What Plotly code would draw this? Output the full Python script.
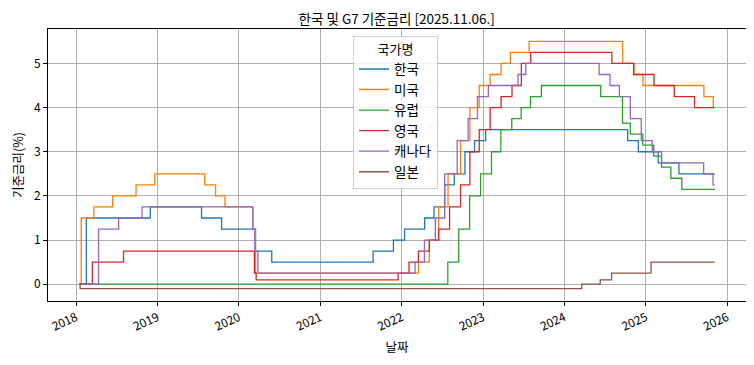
import plotly.graph_objects as go

# ---- data (policy rate change points, step-held until next point) ----
kr_dates = ["2018-01-16", "2018-02-16", "2018-11-30", "2019-07-18", "2019-10-16", "2020-03-16",
            "2020-05-28", "2021-08-26", "2021-11-25", "2022-01-14", "2022-04-14", "2022-05-26",
            "2022-07-13", "2022-08-25", "2022-10-12", "2022-11-24", "2023-01-13", "2024-10-11",
            "2024-11-28", "2025-02-25", "2025-05-29", "2025-11-06"]
kr_rates = [0, 1.5, 1.75, 1.5, 1.25, 0.75, 0.5, 0.75, 1.0, 1.25, 1.5, 1.75,
            2.25, 2.5, 3.0, 3.25, 3.5, 3.25, 3.0, 2.75, 2.5, 2.5]

us_dates = ["2018-01-16", "2018-01-24", "2018-03-22", "2018-06-14", "2018-09-27", "2018-12-20",
            "2019-08-01", "2019-09-19", "2019-10-31", "2020-03-04", "2020-03-16", "2022-03-17",
            "2022-05-05", "2022-06-16", "2022-07-28", "2022-09-22", "2022-11-03", "2022-12-15",
            "2023-02-02", "2023-03-23", "2023-05-04", "2023-07-27", "2024-09-19", "2024-11-08",
            "2024-12-19", "2025-09-18", "2025-10-30", "2025-11-06"]
us_rates = [0, 1.5, 1.75, 2.0, 2.25, 2.5, 2.25, 2.0, 1.75, 1.25, 0.25, 0.5,
            1.0, 1.75, 2.5, 3.25, 4.0, 4.5, 4.75, 5.0, 5.25, 5.5, 5.0, 4.75,
            4.5, 4.25, 4.0, 4.0]

eu_dates = ["2018-01-16", "2022-07-27", "2022-09-14", "2022-11-02", "2022-12-21", "2023-02-08",
            "2023-03-22", "2023-05-10", "2023-06-21", "2023-08-02", "2023-09-20", "2024-06-12",
            "2024-09-18", "2024-10-23", "2024-12-18", "2025-02-05", "2025-03-12", "2025-04-23",
            "2025-06-11", "2025-11-06"]
eu_rates = [0.0, 0.5, 1.25, 2.0, 2.5, 3.0, 3.5, 3.75, 4.0, 4.25, 4.5, 4.25,
            3.65, 3.4, 3.15, 2.9, 2.65, 2.4, 2.15, 2.15]

uk_dates = ["2018-01-16", "2018-03-15", "2018-08-02", "2020-03-11", "2020-03-19", "2021-12-16",
            "2022-02-03", "2022-03-17", "2022-05-05", "2022-06-16", "2022-08-04", "2022-09-22",
            "2022-11-03", "2022-12-15", "2023-02-02", "2023-03-23", "2023-05-11", "2023-06-22",
            "2023-08-03", "2024-08-01", "2024-11-07", "2025-02-06", "2025-05-08", "2025-08-07",
            "2025-11-06"]
uk_rates = [0, 0.5, 0.75, 0.25, 0.1, 0.25, 0.5, 0.75, 1.0, 1.25, 1.75, 2.25,
            3.0, 3.5, 4.0, 4.25, 4.5, 5.0, 5.25, 5.0, 4.75, 4.5, 4.25, 4.0, 4.0]

ca_dates = ["2018-01-16", "2018-04-12", "2018-07-11", "2018-10-24", "2020-03-04", "2020-03-13",
            "2020-03-27", "2022-03-02", "2022-04-13", "2022-06-01", "2022-07-13", "2022-09-07",
            "2022-10-26", "2022-12-07", "2023-01-25", "2023-06-07", "2023-07-12", "2024-06-05",
            "2024-07-24", "2024-09-04", "2024-10-23", "2024-12-11", "2025-01-29", "2025-03-12",
            "2025-09-17", "2025-10-29", "2025-11-06"]
ca_rates = [0, 1.25, 1.5, 1.75, 1.25, 0.75, 0.25, 0.5, 1.0, 1.5, 2.5, 3.25,
            3.75, 4.25, 4.5, 4.75, 5.0, 4.75, 4.5, 4.25, 3.75, 3.25, 3.0, 2.75,
            2.5, 2.25, 2.25]

jp_dates = ["2018-01-16", "2018-01-19", "2024-03-19", "2024-06-10", "2024-07-31", "2025-01-24",
            "2025-11-06"]
jp_rates = [0, -0.1, 0.0, 0.1, 0.25, 0.5, 0.5]

series_names = ["한국", "미국", "유럽", "영국", "캐나다", "일본"]
series_dates = [kr_dates, us_dates, eu_dates, uk_dates, ca_dates, jp_dates]
series_rates = [kr_rates, us_rates, eu_rates, uk_rates, ca_rates, jp_rates]
colors = ["#1f77b4", "#ff7f0e", "#2ca02c", "#d62728", "#9467bd", "#8c564b"]

title_text = "한국 및 G7 기준금리 [2025.11.06.]"
x_label = "날짜"
y_label = "기준금리(%)"
legend_title = "국가명"

FONT = "Noto Sans CJK KR, Noto Sans, sans-serif"

fig = go.Figure()
for name, d, r, c in zip(series_names, series_dates, series_rates, colors):
    fig.add_trace(go.Scatter(x=d, y=r, mode="lines", name=name,
                             line=dict(color=c, width=1.3, shape="hv")))

axis_common = dict(showgrid=True, gridcolor="#b0b0b0", gridwidth=0.8,
                   showline=True, linecolor="black", linewidth=1, mirror=True,
                   ticks="outside", ticklen=4, tickcolor="black",
                   tickfont=dict(size=12, color="black"), zeroline=False,
                   automargin=False)

# the page body adds an 8px offset, so the figure is 8px smaller than the window
fig.update_layout(
    width=746, height=357,
    margin=dict(l=40, r=8, t=21, b=64),
    paper_bgcolor="white", plot_bgcolor="white",
    font=dict(family=FONT, color="black", size=12),
    title=dict(text=title_text, x=0.521, xanchor="center", y=0.969, yanchor="middle",
               font=dict(size=13.5), automargin=False),
    xaxis=dict(type="date", range=["2017-08-28", "2026-03-26"], dtick="M12",
               tick0="2018-01-01", tickformat="%Y", tickangle=-25,
               title=dict(text=x_label, font=dict(size=12.5), standoff=10),
               **axis_common),
    yaxis=dict(range=[-0.38, 5.78], dtick=1, tick0=0,
               title=dict(text=y_label, font=dict(size=12.5), standoff=10),
               **axis_common),
    legend=dict(x=0.437, y=0.975, xanchor="left", yanchor="top",
                bgcolor="rgba(255,255,255,0.8)", bordercolor="#d0d0d0", borderwidth=1,
                font=dict(size=13.5), itemwidth=30, tracegroupgap=0,
                title=dict(text=legend_title, side="top center", font=dict(size=13))),
    showlegend=True,
)

fig.write_html("out.html")
